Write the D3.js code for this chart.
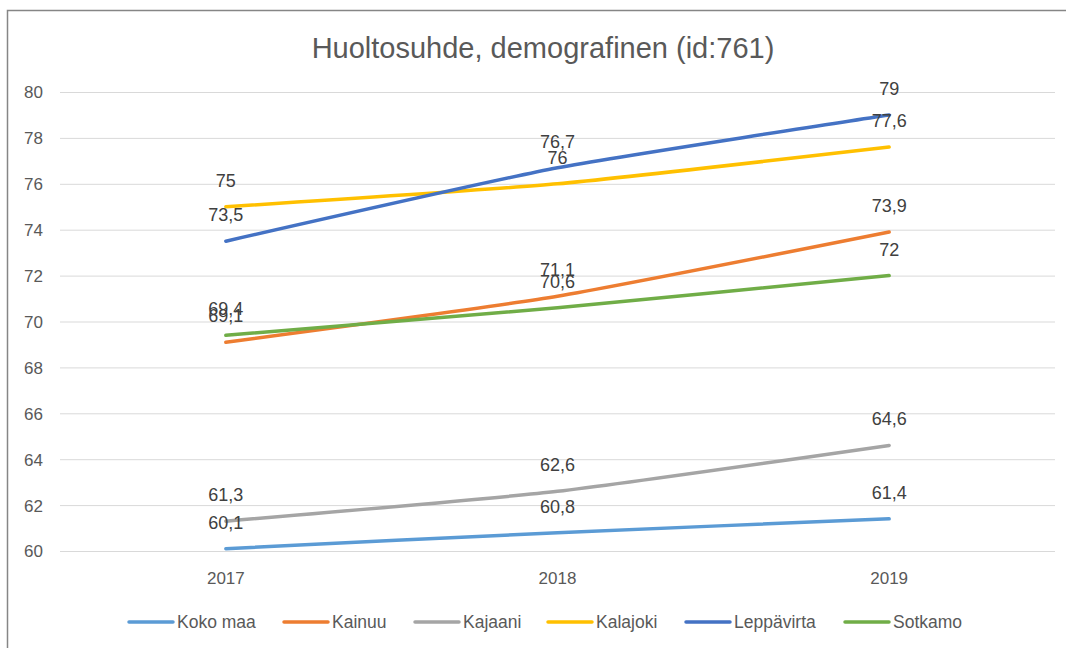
<!DOCTYPE html>
<html><head><meta charset="utf-8">
<script src="https://cdn.jsdelivr.net/npm/d3@7"></script>
<style>body{margin:0;background:#fff;} svg{display:block;font-family:"Liberation Sans",Arial,sans-serif;}</style>
</head><body>
<svg id="c" width="1066" height="648"></svg>
<script>
const years = ["2017","2018","2019"];
const seriesNames = ["Koko maa","Kainuu","Kajaani","Kalajoki","Leppävirta","Sotkamo"];
const kokoMaa = [60.1, 60.8, 61.4];
const kainuu = [69.1, 71.1, 73.9];
const kajaani = [61.3, 62.6, 64.6];
const kalajoki = [75, 76, 77.6];
const leppavirta = [73.5, 76.7, 79];
const sotkamo = [69.4, 70.6, 72];
const yTicks = [60,62,64,66,68,70,72,74,76,78,80];
const colors = ["#5B9BD5","#ED7D31","#A5A5A5","#FFC000","#4472C4","#70AD47"];
const values = [kokoMaa, kainuu, kajaani, kalajoki, leppavirta, sotkamo];
const title = "Huoltosuhde, demografinen (id:761)";

const svg = d3.select("#c");
// border
svg.append("path").attr("d","M7.5,648 V10.5 H1066").attr("fill","none").attr("stroke","#868686").attr("stroke-width",1.5);

const x = d3.scaleBand().domain(years).range([60,1055]);
const y = d3.scaleLinear().domain([60,80]).range([551,92]);
const xc = d => x(d) + x.bandwidth()/2;

// gridlines
svg.append("g").selectAll("line").data(yTicks).join("line")
  .attr("x1",60).attr("x2",1055).attr("y1",d=>y(d)+0.5).attr("y2",d=>y(d)+0.5)
  .attr("stroke","#d9d9d9").attr("stroke-width",1);

// y axis labels
const yAxis = d3.axisLeft(y).tickValues(yTicks).tickSize(0).tickPadding(0).tickFormat(d3.format("d"));
const gy = svg.append("g").attr("transform","translate(43,0)").call(yAxis);
gy.select(".domain").remove();
gy.selectAll("text").attr("fill","#595959").attr("font-size",17).attr("font-family","Liberation Sans, Arial, sans-serif").attr("dy","0.35em");

// x axis labels
const xAxis = d3.axisBottom(x).tickSize(0).tickPadding(0);
const gx = svg.append("g").attr("transform","translate(0,572)").call(xAxis);
gx.select(".domain").remove();
gx.selectAll("text").attr("fill","#595959").attr("font-size",17).attr("font-family","Liberation Sans, Arial, sans-serif").attr("dy","0.35em").attr("y",6);

// title
svg.append("text").attr("x",543).attr("y",58).attr("text-anchor","middle")
  .attr("fill","#595959").attr("font-size",29).text(title);

// lines
const line = d3.line().x((d,i)=>xc(years[i])).y(d=>y(d)).curve(d3.curveCardinal.tension(0.5));
svg.append("g").selectAll("path").data(values).join("path")
  .attr("d",d=>line(d)).attr("fill","none").attr("stroke",(d,i)=>colors[i])
  .attr("stroke-width",3.5).attr("stroke-linecap","round");

// labels
const fmt = v => String(v).replace(".",",");
const lg = svg.append("g");
values.forEach((vals)=>{
  vals.forEach((v,i)=>{
    lg.append("text").attr("x",xc(years[i])).attr("y",y(v)-20).attr("text-anchor","middle")
      .attr("fill","#404040").attr("font-size",18).text(fmt(v));
  });
});

// legend
const legX = [129,284,415,548,686,845];
const leg = svg.append("g");
seriesNames.forEach((n,i)=>{
  leg.append("line").attr("x1",legX[i]).attr("x2",legX[i]+44).attr("y1",622).attr("y2",622)
    .attr("stroke",colors[i]).attr("stroke-width",3.5).attr("stroke-linecap","round");
  leg.append("text").attr("x",legX[i]+48).attr("y",628).attr("fill","#595959").attr("font-size",17.5).text(n);
});
</script>
</body></html>
